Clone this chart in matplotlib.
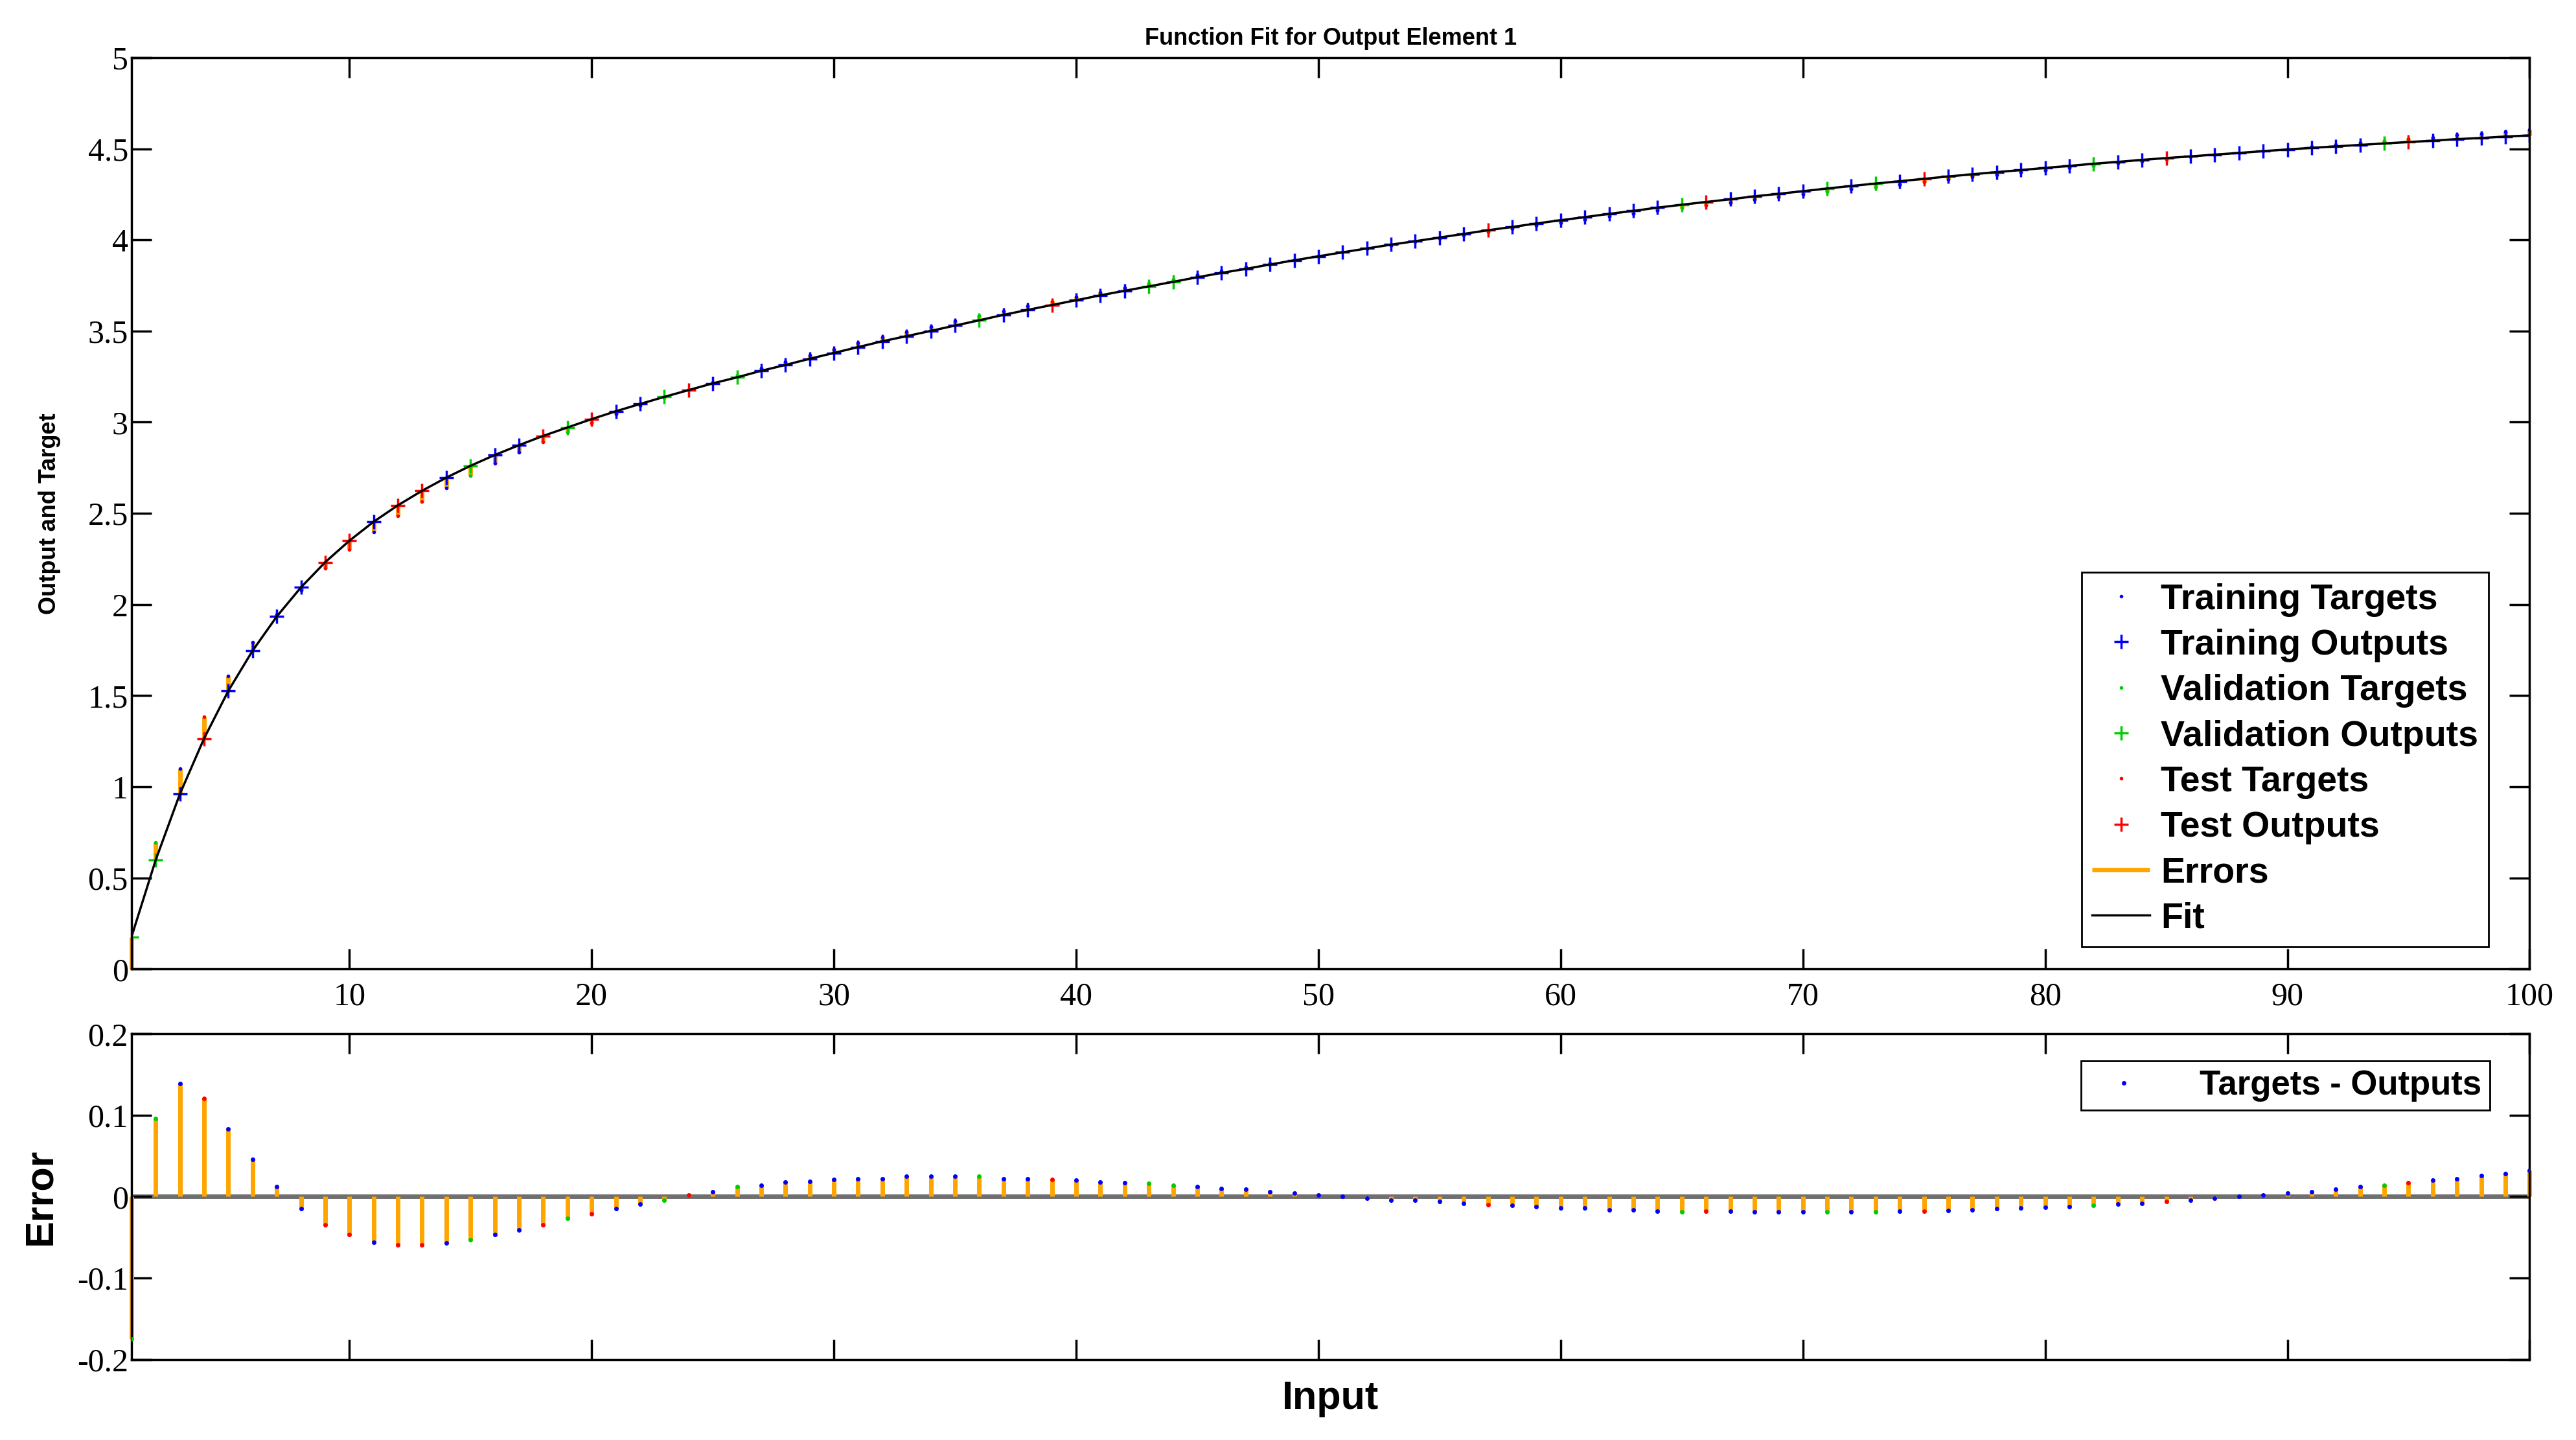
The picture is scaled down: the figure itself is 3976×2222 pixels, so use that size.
import numpy as np
import matplotlib
matplotlib.use("Agg")
import matplotlib.pyplot as plt

inputs = list(range(1, 101))
targets = [0.000,0.693,1.099,1.386,1.609,1.792,1.946,2.079,2.197,2.303,
           2.398,2.485,2.565,2.639,2.708,2.773,2.833,2.890,2.944,2.996,
           3.045,3.091,3.135,3.178,3.219,3.258,3.296,3.332,3.367,3.401,
           3.434,3.466,3.497,3.526,3.555,3.584,3.611,3.638,3.664,3.689,
           3.714,3.738,3.761,3.784,3.807,3.829,3.850,3.871,3.892,3.912,
           3.932,3.951,3.970,3.989,4.007,4.025,4.043,4.060,4.078,4.094,
           4.111,4.127,4.143,4.159,4.174,4.190,4.205,4.220,4.234,4.248,
           4.263,4.277,4.290,4.304,4.317,4.331,4.344,4.357,4.369,4.382,
           4.394,4.407,4.419,4.431,4.443,4.454,4.466,4.477,4.489,4.500,
           4.511,4.522,4.533,4.543,4.554,4.564,4.575,4.585,4.595,4.605]
errors = [-0.175,0.096,0.139,0.121,0.083,0.046,0.012,-0.015,-0.035,-0.047,
          -0.056,-0.059,-0.059,-0.057,-0.053,-0.047,-0.041,-0.035,-0.027,-0.021,
          -0.015,-0.009,-0.004,0.002,0.006,0.012,0.014,0.018,0.019,0.021,
          0.022,0.022,0.025,0.025,0.025,0.025,0.022,0.022,0.021,0.020,
          0.018,0.017,0.016,0.014,0.012,0.010,0.009,0.006,0.004,0.002,
          0.000,-0.002,-0.004,-0.004,-0.006,-0.008,-0.010,-0.011,-0.012,-0.014,
          -0.014,-0.016,-0.016,-0.018,-0.019,-0.018,-0.018,-0.019,-0.019,-0.019,
          -0.019,-0.019,-0.019,-0.018,-0.018,-0.017,-0.016,-0.015,-0.014,-0.013,
          -0.012,-0.011,-0.009,-0.008,-0.006,-0.004,-0.002,0.000,0.002,0.004,
          0.006,0.009,0.012,0.014,0.017,0.020,0.022,0.026,0.028,0.032]
validation_idx = [1,2,15,19,23,26,36,43,44,65,71,73,82,94]
test_idx = [4,9,10,12,13,18,20,24,39,57,66,75,85,95]

x = np.array(inputs, float)
t = np.array(targets)
e = np.array(errors)
o = t - e
cat = np.zeros(100, int)
for i in validation_idx: cat[i-1] = 1
for i in test_idx: cat[i-1] = 2
train = cat == 0; val = cat == 1; tst = cat == 2

ORANGE = '#FFA500'
serif = 'Liberation Serif'
sans = 'Liberation Sans'

fig = plt.figure(figsize=(39.76, 22.22), dpi=100)
ax = fig.add_axes([0.051, 0.327, 0.931, 0.633])
ax2 = fig.add_axes([0.051, 0.056, 0.931, 0.226])

ms_t = 6; ms_o = 16; mew = 2.5
ax.plot(x[train], t[train], '.', color='blue', ms=ms_t, label='Training Targets')
ax.plot(x[train], o[train], '+', color='blue', ms=ms_o, mew=mew, label='Training Outputs')
ax.plot(x[val], t[val], '.', color='#00CC00', ms=ms_t, label='Validation Targets')
ax.plot(x[val], o[val], '+', color='#00CC00', ms=ms_o, mew=mew, label='Validation Outputs')
ax.plot(x[tst], t[tst], '.', color='red', ms=ms_t, label='Test Targets')
ax.plot(x[tst], o[tst], '+', color='red', ms=ms_o, mew=mew, label='Test Outputs')
ax.vlines(x, o, t, color=ORANGE, lw=5, label='Errors', zorder=1, clip_on=False)
ax.plot(x, o, '-', color='black', lw=2.5, label='Fit', zorder=2)

ax.set_xlim(1, 100); ax.set_ylim(0, 5)
ax.set_xticks(range(10, 101, 10))
ax.set_yticks(np.arange(0, 5.01, 0.5))
ax.set_yticklabels(['0','0.5','1','1.5','2','2.5','3','3.5','4','4.5','5'])
ax.set_title('Function Fit for Output Element 1', fontsize=26, fontweight='bold', family=sans, pad=14)
ax.set_ylabel('Output and Target', fontsize=26, fontweight='bold', family=sans, labelpad=30)
leg = ax.legend(loc='lower right', bbox_to_anchor=(0.9905, 0.005),
                prop={'family': sans, 'weight': 'bold', 'size': 40},
                fancybox=False, edgecolor='black', framealpha=1, handlelength=1.6,
                borderpad=0.3, labelspacing=0.33, handletextpad=0.3, markerscale=1)
leg.get_frame().set_linewidth(2)

ax2.axhline(0, color='#707070', lw=5, zorder=1)
ax2.vlines(x, 0, e, color=ORANGE, lw=5, zorder=2, clip_on=False)
ax2.plot(x[train], e[train], '.', color='blue', ms=8, zorder=3, label='Targets - Outputs')
ax2.plot(x[val], e[val], '.', color='#00CC00', ms=8, zorder=3)
ax2.plot(x[tst], e[tst], '.', color='red', ms=8, zorder=3)
ax2.set_xlim(1, 100); ax2.set_ylim(-0.2, 0.2)
ax2.set_xticks(range(10, 101, 10)); ax2.set_xticklabels([])
ax2.set_yticks([-0.2, -0.1, 0, 0.1, 0.2])
ax2.set_yticklabels(['-0.2', '-0.1', '0', '0.1', '0.2'])
ax2.set_ylabel('Error', fontsize=44, fontweight='bold', family=sans, labelpad=20)
ax2.set_xlabel('Input', fontsize=44, fontweight='bold', family=sans, labelpad=20)
leg2 = ax2.legend(loc='upper right', bbox_to_anchor=(0.9905, 0.97),
                  prop={'family': sans, 'weight': 'bold', 'size': 38},
                  fancybox=False, edgecolor='black', framealpha=1, borderpad=0.25,
                  handletextpad=1.2)
leg2.get_frame().set_linewidth(2)

for a in (ax, ax2):
    a.tick_params(direction='in', length=22, width=2.5, top=True, right=True, labelsize=36)
    for lab in a.get_xticklabels() + a.get_yticklabels():
        lab.set_family(serif)
    for s in a.spines.values():
        s.set_linewidth(2.5)
ax.tick_params(axis='x', pad=14)

fig.savefig('out.png', dpi=100, facecolor='white')
